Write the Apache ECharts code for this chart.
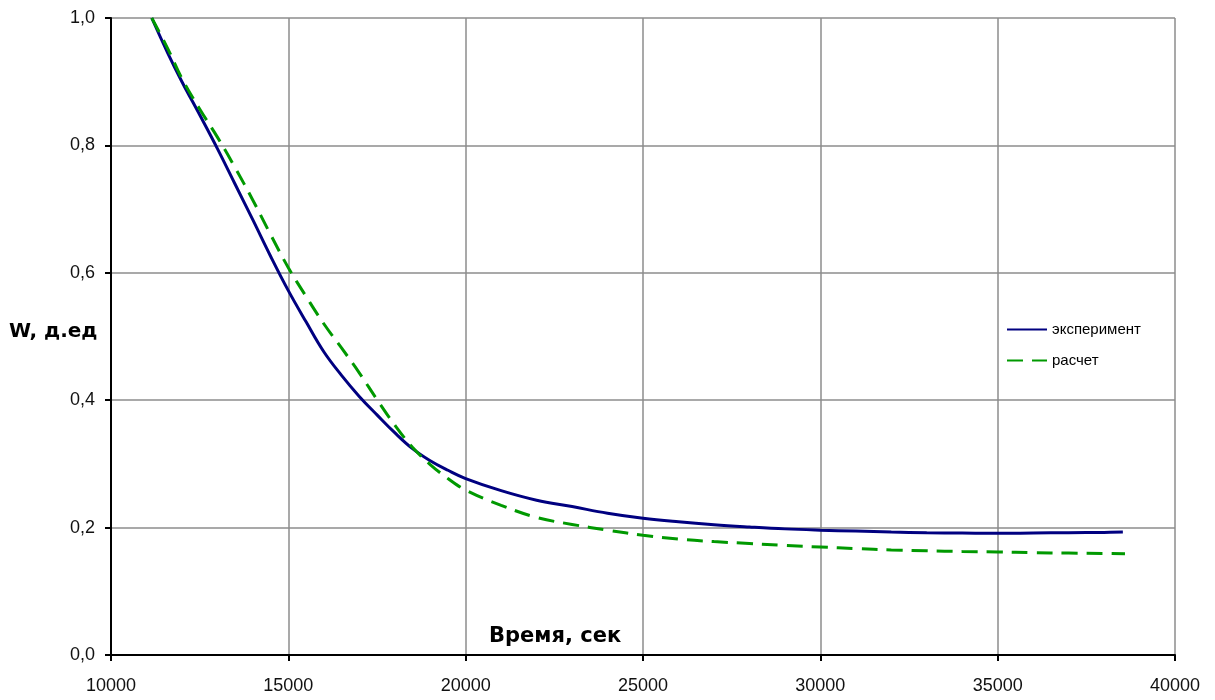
<!DOCTYPE html>
<html>
<head>
<meta charset="utf-8">
<script src="https://cdn.jsdelivr.net/npm/echarts@6/dist/echarts.min.js"></script>
<style>
  html, body { margin: 0; padding: 0; background: #fff; }
  #main { width: 1215px; height: 700px; }
</style>
</head>
<body>
<div id="main"></div>
<script>
// эксперимент
const expTime = [11150, 11600, 12000, 12500, 13000, 13500, 14000, 14500, 15000, 15500, 16000, 16500, 17000, 17500, 18000, 18500, 19000, 19500, 20000, 21000, 22000, 23000, 24000, 25000, 26000, 27000, 28000, 29000, 30000, 31000, 32000, 33000, 34000, 35000, 36000, 37000, 38000, 38530];
const expW = [1.0, 0.945, 0.9, 0.848, 0.795, 0.739, 0.683, 0.626, 0.572, 0.523, 0.476, 0.439, 0.406, 0.377, 0.349, 0.324, 0.305, 0.29, 0.277, 0.258, 0.243, 0.233, 0.2225, 0.2146, 0.209, 0.2045, 0.201, 0.198, 0.196, 0.1945, 0.193, 0.192, 0.1915, 0.191, 0.1915, 0.192, 0.1925, 0.193];
// расчет
const calcTime = [11150, 11600, 12000, 12500, 13000, 13500, 14000, 14500, 15000, 15500, 16000, 16500, 17000, 17500, 18000, 18500, 19000, 19500, 20000, 21000, 22000, 23000, 24000, 25000, 26000, 27000, 28000, 29000, 30000, 31000, 32000, 33000, 34000, 35000, 36000, 37000, 38000, 38590];
const calcW = [1.0, 0.952, 0.905, 0.857, 0.813, 0.765, 0.714, 0.66, 0.608, 0.563, 0.52, 0.482, 0.443, 0.401, 0.361, 0.326, 0.299, 0.277, 0.259, 0.235, 0.216, 0.205, 0.196, 0.188, 0.182, 0.178, 0.175, 0.172, 0.1695, 0.167, 0.165, 0.1635, 0.1625, 0.1617, 0.1607, 0.16, 0.1595, 0.159];

const pairs = (xs, ys) => xs.map((x, i) => [x, ys[i]]);

const chart = echarts.init(document.getElementById('main'));
chart.setOption({
  animation: false,
  grid: { left: 111, right: 40, top: 18, bottom: 45, outerBoundsMode: 'none' },
  legend: {
    orient: 'vertical',
    left: 1001,
    top: 317,
    itemWidth: 40,
    itemHeight: 14,
    itemGap: 16,
    itemStyle: { opacity: 0 },
    textStyle: { fontFamily: 'Liberation Sans', fontSize: 15, color: '#000' },
    data: ['эксперимент', 'расчет']
  },
  xAxis: {
    type: 'value',
    min: 10000,
    max: 40000,
    interval: 5000,
    axisLine: { lineStyle: { color: '#000', width: 2 } },
    axisTick: { show: true, length: 6, lineStyle: { color: '#000', width: 2 } },
    axisLabel: {
      fontFamily: 'Liberation Sans', fontSize: 18, color: '#111', margin: 22,
      formatter: v => String(v)
    },
    splitLine: { show: true, lineStyle: { color: '#8c8c8c', width: 1.5 } }
  },
  yAxis: {
    type: 'value',
    min: 0,
    max: 1,
    interval: 0.2,
    axisLine: { show: true, lineStyle: { color: '#000', width: 2 } },
    axisTick: { show: true, length: 6, lineStyle: { color: '#000', width: 2 } },
    axisLabel: {
      fontFamily: 'Liberation Sans', fontSize: 18, color: '#111', margin: 16,
      formatter: v => v.toFixed(1).replace('.', ',')
    },
    splitLine: { show: true, lineStyle: { color: '#8c8c8c', width: 1.5 } }
  },
  graphic: [
    {
      type: 'text',
      left: 9,
      top: 322,
      style: { text: 'W, д.ед', font: 'bold 20px "DejaVu Sans"', fill: '#000' }
    },
    {
      type: 'text',
      left: 489,
      top: 626,
      style: { text: 'Время, сек', font: 'bold 21px "DejaVu Sans"', fill: '#000' }
    }
  ],
  series: [
    {
      name: 'эксперимент',
      type: 'line',
      smooth: 0.4,
      symbol: 'none',
      data: pairs(expTime, expW),
      itemStyle: { color: '#000080' },
      lineStyle: { color: '#000080', width: 3 }
    },
    {
      name: 'расчет',
      type: 'line',
      smooth: 0.4,
      symbol: 'none',
      data: pairs(calcTime, calcW),
      itemStyle: { color: '#009900' },
      lineStyle: { color: '#009900', width: 3, type: [16, 9] }
    }
  ]
});
</script>
</body>
</html>
